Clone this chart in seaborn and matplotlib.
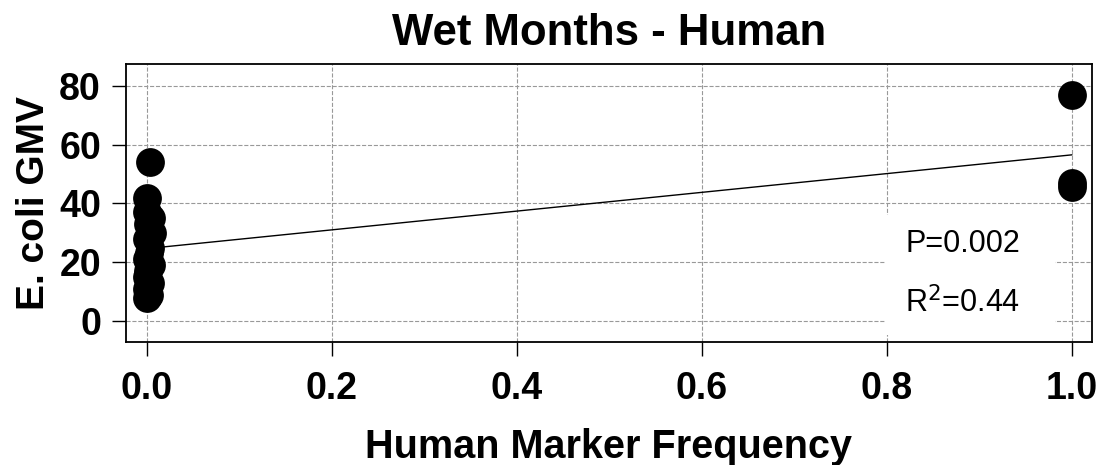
import numpy as np
import pandas as pd
import matplotlib
matplotlib.use("Agg")
import matplotlib.pyplot as plt
import seaborn as sns
from matplotlib.patches import Rectangle

# data
marker_freq = [0.003, 0.000, 0.000, 0.004, 0.001, 0.005, 0.000, 0.003, 0.002,
               0.000, 0.004, 0.001, 0.000, 0.003, 0.000, 0.002, 0.000,
               1.000, 1.000, 1.000]
ecoli_gmv = [54, 42, 37, 35, 33, 30, 28, 25, 23,
             21, 19, 17, 15, 13, 11, 9, 8,
             77, 47, 45.5]
x_ticks = [0.0, 0.2, 0.4, 0.6, 0.8, 1.0]
y_ticks = [0, 20, 40, 60, 80]
p_label = "P=0.002"
r2_label = "R$^2$=0.44"

df = pd.DataFrame({"freq": marker_freq, "gmv": ecoli_gmv})

sns.set_style("white")
plt.rcParams["font.family"] = ["Liberation Sans", "DejaVu Sans"]
plt.rcParams["text.color"] = "black"
plt.rcParams["axes.labelcolor"] = "black"
plt.rcParams["xtick.color"] = "black"
plt.rcParams["ytick.color"] = "black"

fig = plt.figure(figsize=(11.03, 4.65), dpi=100)
ax = fig.add_axes([0.1142, 0.2645, 0.8758, 0.5979])

sns.regplot(data=df, x="freq", y="gmv", ax=ax, ci=None, scatter=False,
            truncate=True, color="black", line_kws={"linewidth": 1, "zorder": 4})
sns.scatterplot(data=df, x="freq", y="gmv", ax=ax, s=430, color="black",
                edgecolor="black", linewidth=0, zorder=5, legend=False)

ax.set_xlim(-0.0227, 1.0216)
ax.set_ylim(-7.1, 87.4)
ax.set_xticks(x_ticks)
ax.set_yticks(y_ticks)
ax.set_xticklabels([f"{t:.1f}" for t in x_ticks], fontsize=27, fontweight="bold")
ax.set_yticklabels([str(t) for t in y_ticks], fontsize=27, fontweight="bold")
ax.tick_params(axis="x", length=10, width=1, pad=11, direction="out", bottom=True)
ax.tick_params(axis="y", length=10, width=1, pad=8, direction="out", left=True)

ax.grid(True, color="#999999", linestyle="--", linewidth=0.8)
ax.set_axisbelow(True)
for s in ax.spines.values():
    s.set_color("black")
    s.set_linewidth(1.3)

# white box behind the stats text
ax.add_patch(Rectangle((0.7978, -4.8), 0.1838, 40.8, facecolor="white",
                       edgecolor="none", zorder=2))
ax.text(0.8195, 26.2, p_label, fontsize=22, ha="left", va="center", zorder=3)
ax.text(0.8195, 6.0, r2_label, fontsize=22, ha="left", va="center", zorder=3)

ax.set_title("Wet Months - Human", fontsize=31.5, fontweight="bold", pad=14)
ax.set_xlabel("Human Marker Frequency", fontsize=28.5, fontweight="bold", labelpad=15)
ax.set_ylabel("E. coli GMV", fontsize=28, fontweight="bold", labelpad=5)

fig.savefig("out.png", dpi=100)
